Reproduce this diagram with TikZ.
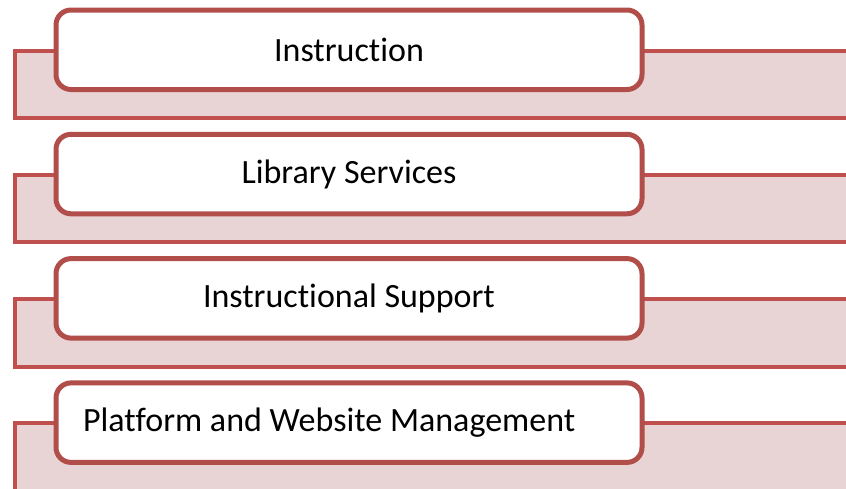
\documentclass[tikz,border=0pt]{standalone}
\usepackage{fontspec}
\setmainfont[Ligatures=NoCommon]{Carlito}
\usepackage{xcolor}
\definecolor{borde}{HTML}{C0504D}
\definecolor{bordecaja}{HTML}{B24E4A}
\definecolor{rosa}{HTML}{E8D4D4}

\begin{document}
\begin{tikzpicture}[x=1pt,y=-1pt]
      % Definición de estilos
      \tikzstyle{fondo}=[draw=borde, line width=4pt, fill=rosa, minimum width=900pt, minimum height=67.5pt, anchor=north west, inner sep=0pt, outer sep=0pt]
      \tikzstyle{caja}=[draw=bordecaja, line width=5pt, fill=white, rounded corners=15pt, minimum width=586pt, minimum height=79.5pt, anchor=north west, outer sep=0pt, font=\fontsize{34}{40}\selectfont]
      
      \clip (0,0) rectangle (846,488);
      
      % Fondos
      \node[fondo] (fondoA) at (14.5,50.5) {};
      \node[fondo] (fondoB) at (14.5,174.8) {};
      \node[fondo] (fondoC) at (14.5,299.1) {};
      \node[fondo] (fondoD) at (14.5,423.4) {};
      
      % Cajas
      \node[caja] (instruction) at (56,10) {Instruction};
      \node[caja] (library) at (56,134.3) {Library Services};
      \node[caja] (support) at (56,258.6) {Instructional Support};
      \node[caja, text width=532pt, inner xsep=27pt, align=flush left] (platform) at (56,382.9) {Platform and Website Management};
    \end{tikzpicture}
\end{document}
